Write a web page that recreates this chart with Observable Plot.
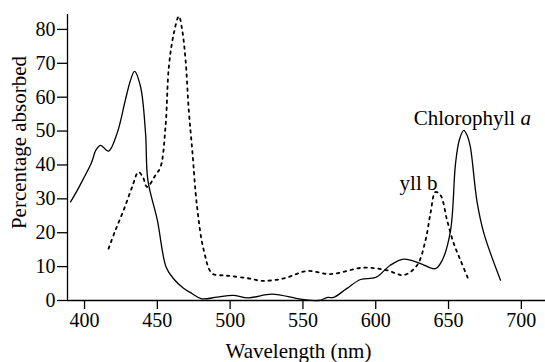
<!DOCTYPE html>
<html>
<head>
<meta charset="utf-8">
<script src="https://cdn.jsdelivr.net/npm/d3@7"></script>
<script src="https://cdn.jsdelivr.net/npm/@observablehq/plot@0.6"></script>
<style>
  html, body { margin: 0; padding: 0; background: #fff; }
  #chart svg { display: block; }
  #chart svg, #chart svg text { font-family: "Liberation Serif", "Times New Roman", serif !important; }
</style>
</head>
<body>
<div id="chart"></div>
<script>
// Chlorophyll a (solid line)
const chlA_nm  = [390.4, 395, 399.3, 404.6, 408, 411, 416.5, 422.4, 428, 431.6, 434.3, 438.5, 441.9, 443.5, 450, 456, 461, 468, 474, 480.5, 491, 502, 512.6, 528.8, 548.5, 561, 567, 571, 580, 589.6, 600, 610, 619.3, 630.8, 641, 645.7, 651.4, 654.8, 657.5, 660.5, 663, 665, 669.6, 674.3, 685.7];
const chlA_pct = [29.1, 32.5, 36, 40.5, 44.5, 45.8, 44.1, 49.4, 59.1, 65, 67.6, 63, 49.4, 35.5, 23.7, 9.9, 6.5, 3.6, 2, 0.5, 1.0, 1.5, 0.8, 1.9, 0.4, 0, 0.9, 0.9, 3.5, 6.2, 6.8, 10.4, 12.2, 10.9, 9.4, 11.9, 20.7, 40.4, 47.5, 50.2, 48.5, 45.3, 29.1, 19.8, 6.0];

// Chlorophyll b (dotted line)
const chlB_nm  = [416.5, 421, 426.8, 432.7, 437, 440, 443, 448.7, 452.2, 455.6, 457.9, 461.3, 464.8, 467, 469.4, 471.6, 474, 477.3, 481.9, 487.6, 495.7, 500.3, 511.7, 522, 536.8, 552.8, 569, 591.8, 607.8, 619.3, 628.4, 634.2, 637.6, 641, 644.5, 649, 653.6, 658.2, 663.9];
const chlB_pct = [15.3, 20.5, 26.6, 33.5, 37.9, 36.5, 33.5, 37, 39.4, 51.2, 68.9, 78.8, 83.9, 80, 70.9, 56.1, 44.3, 27.6, 14.8, 8, 7.4, 7.2, 6.6, 5.8, 6.5, 8.7, 7.8, 9.7, 8.9, 7.5, 10.4, 17.8, 25.7, 32.0, 31.1, 23.7, 16.8, 11.9, 6.0];

// Axis ticks
const xTicks = [400, 450, 500, 550, 600, 650, 700];
const yTicks = [0, 10, 20, 30, 40, 50, 60, 70, 80];

// Text
const xTitle = "Wavelength (nm)";
const yTitle = "Percentage absorbed";
const curveLabels = ["Chlorophyll a", "yll b"];
const curveLabelNm = [666.3, 629.4];
const curveLabelPct = [53.8, 34.6];

const chlA = chlA_nm.map((x, i) => ({x, y: chlA_pct[i]}));
const chlB = chlB_nm.map((x, i) => ({x, y: chlB_pct[i]}));
const labels = curveLabels.map((t, i) => ({t, x: curveLabelNm[i], y: curveLabelPct[i]}));

const font = "Liberation Serif, Times New Roman, serif";

const plot = Plot.plot({
  width: 545,
  height: 362,
  marginLeft: 67,
  marginRight: 0,
  marginTop: 14,
  marginBottom: 62,
  x: {domain: [388.3, 716.6]},
  y: {domain: [0, 84.4]},
  style: {fontFamily: font, fontSize: "20px", color: "#000", background: "#fff"},
  marks: [
    Plot.ruleX([388.3], {stroke: "#000", strokeWidth: 1.3}),
    Plot.ruleY([0], {stroke: "#000", strokeWidth: 1.3}),
    Plot.axisX({ticks: xTicks, tickSize: 9, tickPadding: 3, label: null, fontSize: 20, fontFamily: font, tickFormat: d => String(d), strokeWidth: 1.3}),
    Plot.axisY({ticks: yTicks, tickSize: 10, tickPadding: 2, label: null, fontSize: 20, fontFamily: font, tickFormat: d => String(d), strokeWidth: 1.3}),
    Plot.line(chlB, {x: "x", y: "y", curve: "catmull-rom", stroke: "#000", strokeWidth: 1.8, strokeDasharray: "2.5,4.5"}),
    Plot.line(chlA, {x: "x", y: "y", curve: "catmull-rom", stroke: "#000", strokeWidth: 1.3}),
    Plot.text(labels, {x: "x", y: "y", text: "t", textAnchor: "middle", lineAnchor: "middle", fontSize: 21, fontFamily: font, fill: "#000"}),
    Plot.text([yTitle], {frameAnchor: "left", rotate: -90, dx: -48, dy: -15, fontSize: 21, fontFamily: font, lineAnchor: "middle", textAnchor: "middle", fill: "#000"}),
    Plot.text([xTitle], {frameAnchor: "bottom", dx: -8, dy: 51, fontSize: 21, fontFamily: font, lineAnchor: "middle", textAnchor: "middle", fill: "#000"})
  ]
});

// italicize the "a" in "Chlorophyll a"
d3.select(plot).selectAll("text").each(function() {
  if (this.textContent === "Chlorophyll a") {
    const el = d3.select(this);
    el.text(null);
    el.append("tspan").text("Chlorophyll ");
    el.append("tspan").attr("font-style", "italic").text("a");
  }
});

document.getElementById("chart").appendChild(plot);
</script>
</body>
</html>
